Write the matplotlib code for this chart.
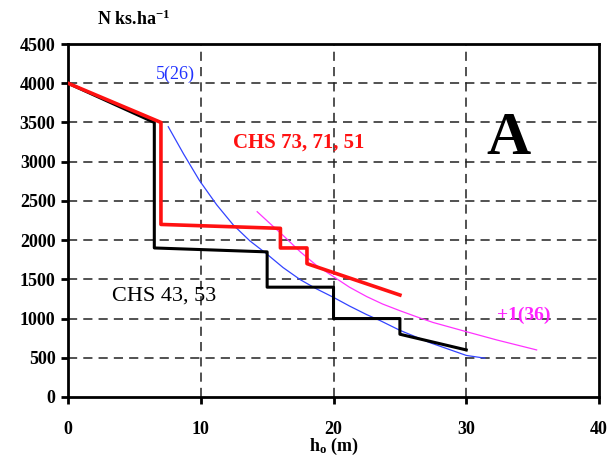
import matplotlib
matplotlib.use("Agg")
import matplotlib.pyplot as plt

# stepped stocking schedules (h_o in m, N in stems/ha)
black_h = [0, 6.5, 6.5, 15, 15, 20, 20, 25, 25, 30]
black_n = [4000, 3500, 1900, 1850, 1400, 1400, 1000, 1000, 800, 600]

red_h = [0, 7, 7, 16, 16, 18, 18, 25]
red_n = [4000, 3500, 2200, 2150, 1900, 1900, 1700, 1300]

# reference curves
blue_h = [7.55, 8.7, 9.9, 11.2, 12.45, 13.7, 14.96, 16.2, 17.5, 18.7,
          20.0, 21.2, 22.5, 23.5, 25.0, 27.3, 30.0, 31.4]
blue_n = [3446, 3100, 2760, 2450, 2193, 1990, 1825, 1650, 1495, 1380,
          1270, 1160, 1050, 975, 850, 690, 530, 495]

pink_h = [14.25, 15.2, 16.2, 17.5, 18.7, 20.0, 21.2, 22.5, 23.7, 25.0,
          26.3, 27.5, 30.0, 32.3, 35.3]
pink_n = [2362, 2214, 2060, 1850, 1680, 1534, 1400, 1280, 1185, 1100,
          1020, 950, 833, 727, 600]

xticks = [0, 10, 20, 30, 40]
yticks = [0, 500, 1000, 1500, 2000, 2500, 3000, 3500, 4000, 4500]

plt.rcParams['font.family'] = ['Liberation Serif', 'DejaVu Serif']
plt.rcParams['mathtext.fontset'] = 'custom'
plt.rcParams['mathtext.rm'] = 'Liberation Serif:bold'
plt.rcParams['mathtext.it'] = 'Liberation Serif:bold'
plt.rcParams['mathtext.bf'] = 'Liberation Serif:bold'

fig = plt.figure(figsize=(6.09, 4.59), dpi=100, facecolor="white")
ax = fig.add_axes([0.1117, 0.1351, 0.8719, 0.769])

ax.set_xlim(0, 40)
ax.set_ylim(0, 4500)
ax.set_xticks(xticks)
ax.set_yticks(yticks)
ax.tick_params(direction='out', length=5, width=2, labelsize=13, pad=12)
ax.tick_params(axis='y', pad=4)
for lab in ax.get_xticklabels() + ax.get_yticklabels():
    lab.set_fontweight('bold')
for sp in ax.spines.values():
    sp.set_linewidth(2)

for yv in yticks[1:-1]:
    ax.axhline(yv, color='#222222', lw=1.1, dashes=(6, 4), zorder=1)
for xv in xticks[1:-1]:
    ax.axvline(xv, color='#222222', lw=1.1, dashes=(6, 4), zorder=1)

ax.plot(blue_h, blue_n, color='#3344ff', lw=0.9, zorder=2)
ax.plot(pink_h, pink_n, color='#ff33ff', lw=0.9, zorder=2)
ax.plot(black_h, black_n, color='black', lw=2.2, zorder=3)
ax.plot(red_h, red_n, color='#ff1111', lw=2.6, zorder=4)

ax.text(6.6, 4050, "5(26)", color='#2233ff', fontsize=13, zorder=5)
ax.text(32.3, 980, "+1(36)", color='#ff22ff', fontsize=14, fontweight='bold', zorder=5)
ax.text(12.4, 3180, "CHS 73, 71, 51", color='#ff1111', fontsize=15,
        fontweight='bold', zorder=5)
ax.text(3.3, 1230, "CHS 43, 53", color='black', fontsize=16, zorder=5)
ax.text(31.5, 3100, "A", color='black', fontsize=44, fontweight='bold', zorder=5)

fig.text(0.16, 0.945, r"N ks.ha$^{\mathrm{-1}}$", fontsize=13, fontweight='bold')
ax.set_xlabel(r"h$_{\mathrm{o}}$ (m)", fontsize=13, fontweight='bold', labelpad=-1)

fig.savefig("out.png", dpi=100)
